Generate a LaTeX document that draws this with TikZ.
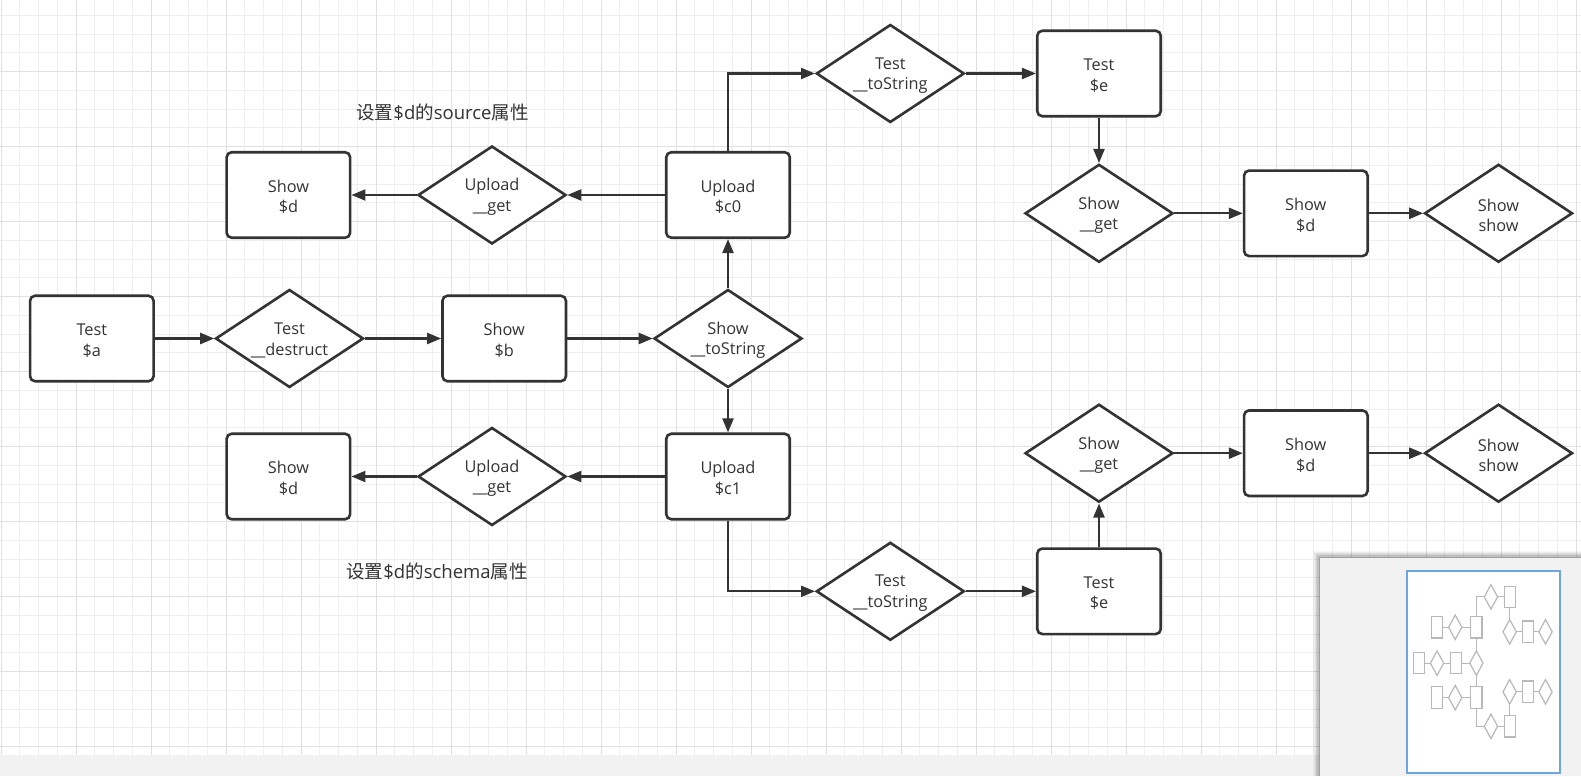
\documentclass[tikz,border=0pt]{standalone}
\usepackage{fontspec}
\setmainfont{Open Sans}
\newfontfamily\cjk{Noto Sans CJK SC}
\usetikzlibrary{shapes.geometric,arrows.meta}
\definecolor{ink}{HTML}{333333}
\definecolor{gridminor}{HTML}{EFEFEF}
\definecolor{gridmajor}{HTML}{E0E0E0}
\definecolor{panelbg}{HTML}{F2F2F2}
\definecolor{viewblue}{HTML}{6AA7E2}
\definecolor{minigray}{HTML}{B8B8B8}
\newcommand\dianode[3]{%
  \node[dia] (#1) at (#2) {};
  \node[txt, yshift=-2pt] (#1-t) at (#1) {#3};}
\newcommand\boxnode[3]{%
  \node[box] (#1) at (#2) {};
  \node[txt, yshift=-2pt] (#1-t) at (#1) {#3};}
\begin{document}
\begin{tikzpicture}[x=1pt,y=-1pt,
  txt/.style={text=ink, font=\fontsize{16.3}{20.5}\selectfont, align=center, inner sep=0pt},
  box/.style={draw=ink, line width=2.6pt, rounded corners=5pt, minimum width=123.5pt, minimum height=85.5pt, fill=white, inner sep=0pt},
  dia/.style={diamond, draw=ink, line width=2.6pt, minimum width=148pt, minimum height=98pt, fill=white, inner sep=0pt},
  conn/.style={draw=ink, line width=2.2pt, -{Triangle[length=14pt,width=11pt]}},
  lbl/.style={text=ink, font=\fontsize{18.5}{22}\selectfont, inner sep=0pt},
  mini/.style={draw=minigray, line width=1.2pt, fill=white},
]
\useasboundingbox (0,0) rectangle (1581,776);
% canvas
\fill[white] (0,0) rectangle (1581,755);
\fill[panelbg] (0,755) rectangle (1581,776);
% grid minor
\foreach \k in {0,...,84} {
  \pgfmathsetmacro\gx{1+18.75*\k}
  \draw[gridminor, line width=1pt] (\gx,0) -- (\gx,755);
}
\foreach \k in {1,...,40} {
  \pgfmathsetmacro\gy{-3.3+18.75*\k}
  \draw[gridminor, line width=1pt] (0,\gy) -- (1581,\gy);
}
% grid major
\foreach \k in {0,...,21} {
  \pgfmathsetmacro\gx{1+75*\k}
  \draw[gridmajor, line width=1pt] (\gx,0) -- (\gx,755);
}
\foreach \k in {1,...,10} {
  \pgfmathsetmacro\gy{-3.3+75*\k}
  \draw[gridmajor, line width=1pt] (0,\gy) -- (1581,\gy);
}

% nodes
\boxnode{Ta}{91.8,338.5}{Test\\\$a}
\dianode{Td}{289.5,338.5}{Test\\\_\_destruct}
\boxnode{Sb}{504.2,338.5}{Show\\\$b}
\dianode{Sts}{728,338.5}{Show\\\_\_toString}
\boxnode{Uc0}{728,195}{Upload\\\$c0}
\dianode{Ug0}{492,195}{Upload\\\_\_get}
\boxnode{Sd0}{288.4,195}{Show\\\$d}
\dianode{Tts0}{890.3,73.5}{Test\\\_\_toString}
\boxnode{Te0}{1099,73.5}{Test\\\$e}
\dianode{Sg0}{1099,213.3}{Show\\\_\_get}
\boxnode{Sd1}{1305.8,213.3}{Show\\\$d}
\dianode{Ss0}{1498.5,213.3}{Show\\show}
\boxnode{Uc1}{728,476.5}{Upload\\\$c1}
\dianode{Ug1}{492,476.5}{Upload\\\_\_get}
\boxnode{Sd2}{288.4,476.5}{Show\\\$d}
\dianode{Tts1}{890.3,591.3}{Test\\\_\_toString}
\boxnode{Te1}{1099,591.3}{Test\\\$e}
\dianode{Sg1}{1099,453.2}{Show\\\_\_get}
\boxnode{Sd3}{1305.8,453.2}{Show\\\$d}
\dianode{Ss1}{1498.5,453.2}{Show\\show}

\node[lbl] (L1) at (442.5,112.5) {{\cjk 设置}\$d{\cjk 的}source{\cjk 属性}};
\node[lbl] (L2) at (437,571.5) {{\cjk 设置}\$d{\cjk 的}schema{\cjk 属性}};

% connectors
\draw[conn] (Ta) -- (Td);
\draw[conn] (Td) -- (Sb);
\draw[conn] (Sb) -- (Sts);
\draw[conn] (Sts) -- (Uc0);
\draw[conn] (Sts) -- (Uc1);
\draw[conn] (Uc0) -- (Ug0);
\draw[conn] (Ug0) -- (Sd0);
\draw[conn] (Uc1) -- (Ug1);
\draw[conn] (Ug1) -- (Sd2);
\draw[conn] (Uc0.north) |- (Tts0.west);
\draw[conn] (Tts0) -- (Te0);
\draw[conn] (Te0) -- (Sg0);
\draw[conn] (Sg0) -- (Sd1);
\draw[conn] (Sd1) -- (Ss0);
\draw[conn] (Uc1.south) |- (Tts1.west);
\draw[conn] (Tts1) -- (Te1);
\draw[conn] (Te1) -- (Sg1);
\draw[conn] (Sg1) -- (Sd3);
\draw[conn] (Sd3) -- (Ss1);

% overview panel
\foreach \i/\op in {0/0.03,1/0.04,2/0.05,3/0.06,4/0.08} {
  \fill[black, opacity=\op] (1313+\i,551+\i) rectangle (1581,776);
}
\fill[panelbg] (1319,557) rectangle (1581,776);
\draw[gray!75, line width=1pt] (1319,776) -- (1319,557) -- (1581,557);
\fill[white] (1407,571) rectangle (1560,773);
\begin{scope}[shift={(1411.07,578.5)}, xscale=0.0897, yscale=0.25]
  \draw[minigray, line width=1.2pt] (91.8,338.5) -- (728,338.5);
  \draw[minigray, line width=1.2pt] (728,195) -- (728,476.5);
  \draw[minigray, line width=1.2pt] (288.4,195) -- (728,195);
  \draw[minigray, line width=1.2pt] (288.4,476.5) -- (728,476.5);
  \draw[minigray, line width=1.2pt] (728,195) |- (1099,73.5) -- (1099,213.3) -- (1498.5,213.3);
  \draw[minigray, line width=1.2pt] (728,476.5) |- (1099,591.3) -- (1099,453.2) -- (1498.5,453.2);
  \foreach \cx/\cy in {91.8/338.5, 504.2/338.5, 728/195, 288.4/195, 1099/73.5, 1305.8/213.3, 728/476.5, 288.4/476.5, 1099/591.3, 1305.8/453.2} {
    \draw[mini] (\cx-62,\cy-43) rectangle (\cx+62,\cy+43);
  }
  \foreach \cx/\cy in {289.5/338.5, 728/338.5, 492/195, 890.3/73.5, 1099/213.3, 1498.5/213.3, 492/476.5, 890.3/591.3, 1099/453.2, 1498.5/453.2} {
    \draw[mini] (\cx-74,\cy) -- (\cx,\cy-49) -- (\cx+74,\cy) -- (\cx,\cy+49) -- cycle;
  }
\end{scope}
\draw[gray!60, line width=1pt] (1408,772) -- (1559,772);
\draw[viewblue, line width=2pt] (1407,571) rectangle (1560,773);
\end{tikzpicture}
\end{document}
